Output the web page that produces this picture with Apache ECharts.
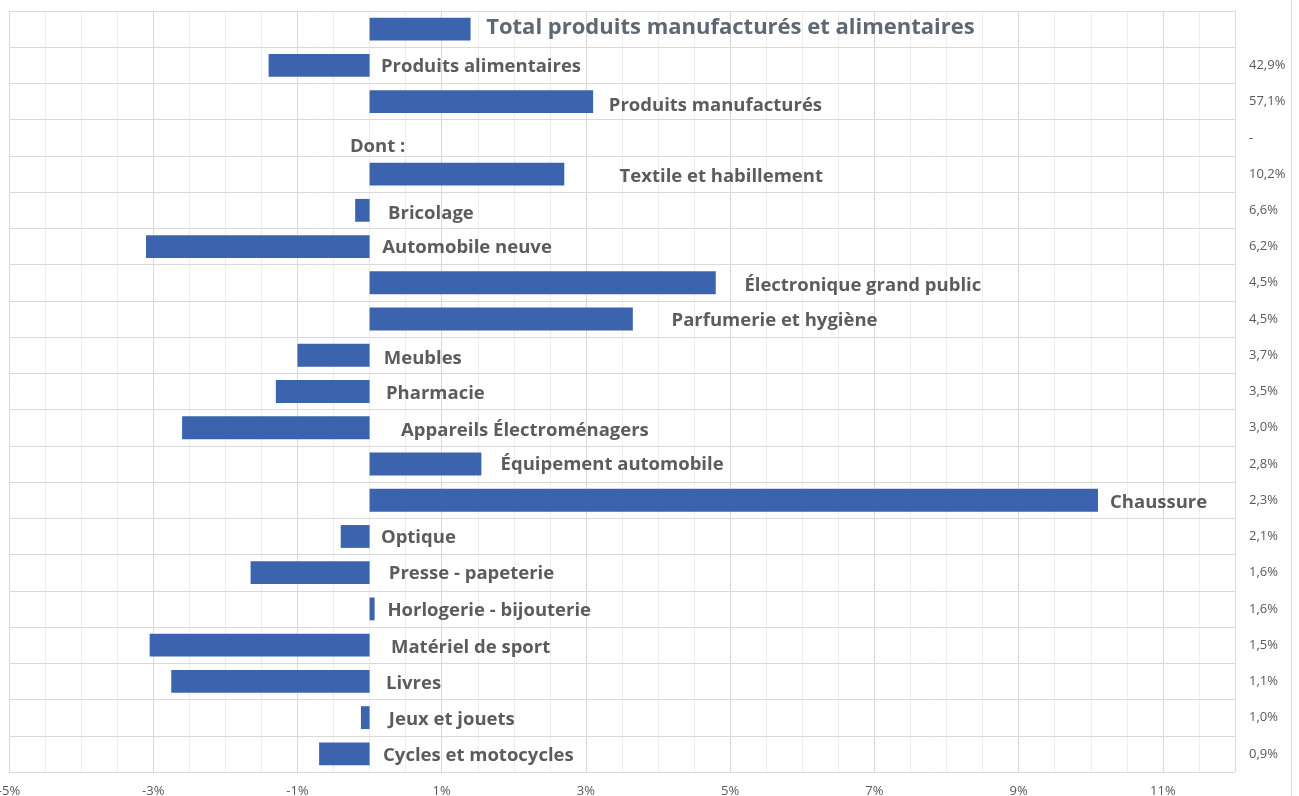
<!DOCTYPE html>
<html>
<head>
<meta charset="utf-8">
<script src="https://cdn.jsdelivr.net/npm/echarts@6/dist/echarts.min.js"></script>
<style>
html,body{margin:0;padding:0;background:#fff;}
#c{width:1291px;height:796px;border-right:1px solid #d9d9d9;}
</style>
</head>
<body>
<div id="c"></div>
<script>
// ---- data ----
const categories = [
  'Total produits manufacturés et alimentaires',
  'Produits alimentaires',
  'Produits manufacturés',
  'Dont :',
  'Textile et habillement',
  'Bricolage',
  'Automobile neuve',
  'Électronique grand public',
  'Parfumerie et hygiène',
  'Meubles',
  'Pharmacie',
  'Appareils Électroménagers',
  'Équipement automobile',
  'Chaussure',
  'Optique',
  'Presse - papeterie',
  'Horlogerie - bijouterie',
  'Matériel de sport',
  'Livres',
  'Jeux et jouets',
  'Cycles et motocycles'
];
const values = [1.4, -1.4, 3.1, null, 2.7, -0.2, -3.1, 4.8, 3.65, -1.0, -1.3, -2.6, 1.55, 10.1, -0.4, -1.65, 0.07, -3.05, -2.75, -0.12, -0.7];
const shares = ['', '42,9%', '57,1%', '-', '10,2%', '6,6%', '6,2%', '4,5%', '4,5%', '3,7%', '3,5%', '3,0%', '2,8%', '2,3%', '2,1%', '1,6%', '1,6%', '1,5%', '1,1%', '1,0%', '0,9%'];
const xTickValues = [-5, -3, -1, 1, 3, 5, 7, 9, 11];

// ---- layout (label anchors in axis units, small vertical nudges in px) ----
const labelAnchorX = [1.61, 0.15, 3.31, -0.28, 3.46, 0.25, 0.17, 5.19, 4.18, 0.19, 0.22, 0.43, 1.81, 10.26, 0.15, 0.26, 0.24, 0.29, 0.22, 0.26, 0.18];
const labelNudgeY = [-1, 1, 4, 9, 3, 3, 1, 3, 2, 3, 2, 3, 1, 3, 1, 1, 2, 3, 2, 2, 2];

const FONT = '"Open Sans", "DejaVu Sans", sans-serif';
const chart = echarts.init(document.getElementById('c'), null, {renderer: 'canvas'});

const labelData = categories.map((name, i) => {
  const item = {
    value: [labelAnchorX[i], i],
    label: {offset: [0, labelNudgeY[i]]}
  };
  if (i === 0) {
    item.label.fontSize = 22;
    item.label.color = '#364252';
  }
  return item;
});

chart.setOption({
  animation: false,
  grid: {left: 9, right: 56, top: 11, bottom: 24, containLabel: false, outerBoundsMode: 'none'},
  xAxis: [
    {
      type: 'value', min: -5, max: 12, interval: 2, z: 3,
      axisLine: {show: false}, axisTick: {show: false},
      splitLine: {show: true, lineStyle: {color: '#d9d9d9', width: 1}},
      axisLabel: {
        color: '#595959', fontSize: 13, fontFamily: FONT, margin: 13,
        showMaxLabel: false, hideOverlap: false,
        formatter: v => (xTickValues.indexOf(v) >= 0 ? v + '%' : '')
      }
    },
    {
      type: 'value', min: -5, max: 12, interval: 0.5, z: 1,
      axisLine: {show: false}, axisTick: {show: false}, axisLabel: {show: false},
      splitLine: {show: true, lineStyle: {color: '#ededed', width: 1}}
    }
  ],
  yAxis: [
    {
      type: 'category', data: categories, inverse: true, z: 3,
      axisLine: {show: false}, axisTick: {show: false}, axisLabel: {show: false},
      splitLine: {show: true, lineStyle: {color: '#d9d9d9', width: 1}}
    },
    {
      type: 'category', data: shares, inverse: true, position: 'right',
      axisLine: {show: false}, axisTick: {show: false}, splitLine: {show: false},
      axisLabel: {color: '#595959', fontSize: 13, fontFamily: FONT, margin: 14, align: 'left'}
    }
  ],
  series: [
    {
      type: 'bar', data: values, xAxisIndex: 0, yAxisIndex: 0,
      barWidth: '63%', z: 4,
      itemStyle: {color: '#3c63ad'}
    },
    {
      type: 'scatter', data: labelData, xAxisIndex: 0, yAxisIndex: 0,
      symbolSize: 1, z: 5, silent: true,
      itemStyle: {color: 'rgba(0,0,0,0)'},
      label: {
        show: true, position: 'right', distance: 0,
        color: '#333333', fontSize: 18.5, fontWeight: 'bold', fontFamily: FONT,
        formatter: p => categories[p.dataIndex]
      }
    }
  ]
});
</script>
</body>
</html>
